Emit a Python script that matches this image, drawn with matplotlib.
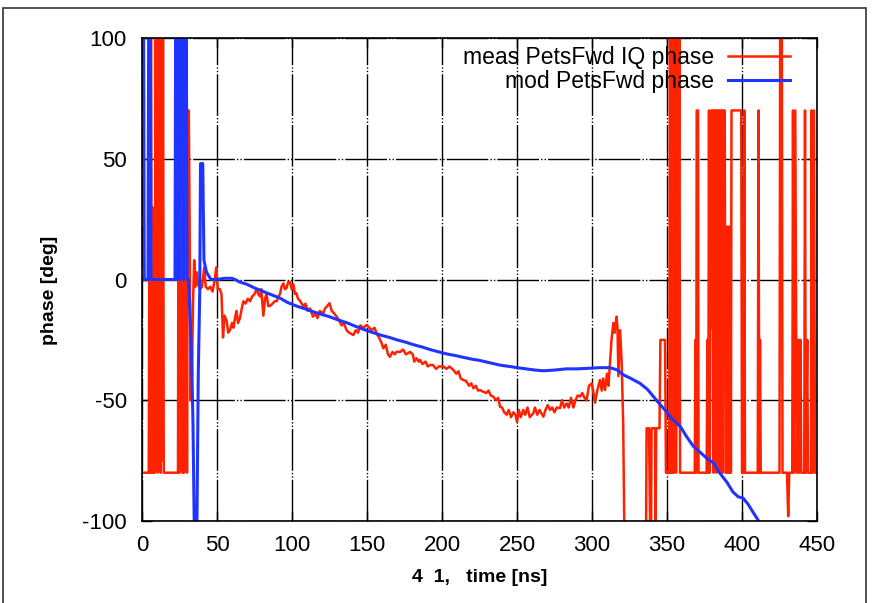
import matplotlib
matplotlib.use("Agg")
import matplotlib.pyplot as plt
from matplotlib.patches import Rectangle

plt.rcParams['font.family'] = ['Liberation Sans', 'DejaVu Sans']
plt.rcParams['axes.unicode_minus'] = False

meas_t = [0, 4.5, 5, 5.5, 6, 6.5, 7, 7.5, 8.5, 9, 9.5, 10, 10.5, 11, 11.5, 12, 12.5, 13, 13.5, 14, 14.5,
          24, 24.5, 25, 25.5, 26, 26.5, 27, 27.5, 28, 28.5, 29, 29.5, 30, 30.5, 31.2, 31.8, 32.3, 32.8, 33.3,
          34, 34.8, 35.5, 36.5, 37.5, 38.5, 40, 41.5, 42.5, 44, 45.5, 47, 48.5, 49.5, 50.5, 52, 53, 54, 55,
          56.4, 57.5, 58.7, 60, 61, 62, 63, 64, 65.3, 66.5, 67.6, 69, 70.5, 72, 73.5, 75, 76.4, 77.5, 78.7,
          79.5, 80.9, 82, 83, 84.2, 85.3, 87, 88.5, 89.8, 91, 92, 93, 94.2, 95.3, 96.4, 97.5, 98.7, 99.8,
          100.9, 102, 103, 104, 105, 106.5, 107.8, 109, 110.5, 112, 114, 115.5, 117, 118.5, 120.9, 122,
          123.5, 125, 126.5, 128, 129.8, 131.5, 133, 134.5, 136.4, 138, 140.9, 142.5, 144, 145.5, 147.6,
          149.8, 151.5, 153, 155, 156.4, 158, 159.5, 160.9, 162.5, 164, 165.3, 167, 168.5, 169.8, 172, 174,
          176, 178.7, 180.5, 181.5, 183, 184.5, 185.3, 187, 189, 190.5, 192, 194, 196, 198, 200.9, 203, 205,
          207.6, 209.5, 211, 212.5, 214.2, 216, 218, 219.5, 220.9, 222.5, 224, 225.3, 227.6, 229.5, 231,
          232.5, 234.2, 236, 237.5, 238.7, 240, 241.5, 243.1, 244.5, 246, 247.6, 249, 250, 251.2, 252.5,
          254.2, 255.5, 257, 258.5, 260.9, 262, 263.5, 265, 267.6, 269, 270.5, 272, 273.5, 275, 276.5, 278.7,
          280, 281.5, 283.1, 284.5, 286, 287.6, 289, 290.5, 292, 293.5, 295, 296.4, 298, 299.8, 301, 302,
          303.5, 305.3, 306.5, 307.5, 308.7, 310, 311, 312, 313, 314.2, 315, 316.4, 317, 317.6, 318.7, 319.8,
          320.8, 322, 335.8, 336.4, 338, 339.2, 339.7, 342, 342.3, 342.8, 345, 345.6, 348.7, 349.3, 351.5,
          352, 352.5, 353.5, 354, 354.5, 355.5, 356, 357, 357.5, 358.2, 358.7, 368.5, 369, 369.5, 369.8,
          370.7, 371, 376.4, 377, 377.5, 378, 378.5, 379.5, 380, 380.5, 381, 381.5, 382, 382.5, 383, 383.5,
          384, 384.5, 385, 385.5, 386, 386.5, 387, 387.5, 388, 388.5, 389, 390, 390.5, 391, 391.8, 392.2,
          392.6, 393, 399.5, 400, 401, 401.5, 402, 410.5, 411, 411.5, 412, 412.5, 425, 425.5, 426.5, 427,
          430, 430.8, 431.5, 433.5, 434, 434.5, 435.5, 436.5, 437.5, 438, 439, 439.5, 441.5, 442, 442.5,
          443.5, 444, 446, 446.4, 447, 448, 448.7, 449.5]
meas_phase = [-80, -80, 30, -80, 120, -80, 30, -80, -80, 120, -70, 120, -80, 120, -60, 120, -80, 120, -75, 120, -80,
              -80, 120, -80, 120, -70, 120, -80, 120, -80, 120, -60, 120, -80, 70, 70, 20, -50, -20, -40,
              -10, 8, -3, 3, -2, -4, -3, 5, -3, -4, -3, -5, 0, 5, -4, -4, -6, -24, -15,
              -17, -22, -21, -18, -20, -16, -13, -18, -16, -12, -9, -10, -8, -9, -7, -6, -4, -6, -7,
              -4, -15, -8, -6, -11, -11, -10, -9, -9, -7, -6, -3, -1.6, -4, -3.5, -1, -1, -4,
              -2, -6, -5.7, -8, -8.5, -10, -11.3, -10, -13, -12, -15.4, -14, -16, -13, -14, -12,
              -11, -9.8, -13, -14, -15.4, -17, -19, -18, -21, -22, -23, -21, -22, -19, -20,
              -18.8, -20, -21, -20, -22.3, -24, -26, -28.5, -27, -31, -32, -30, -31, -29.9, -30, -29,
              -31, -30, -31, -34, -32.6, -34, -33.3, -35, -34, -36, -35.4, -35.4, -37, -36, -36, -37, -36,
              -37.5, -39, -38, -41, -41.6, -42, -44, -43, -45, -44, -46, -45.8, -46.5, -47, -46,
              -48, -48.5, -50, -49, -52.7, -53, -55, -56, -54, -57, -55, -56, -59, -54, -57,
              -54, -56, -53, -57, -55.4, -53, -56, -54, -56.8, -54, -52, -54, -53, -55, -53, -53.3,
              -50, -53, -51.3, -53, -49, -53, -50, -48, -48.5, -47, -49, -50, -44, -43, -47, -51,
              -46, -41.6, -46, -41, -45.8, -39, -44, -34.6, -25, -18, -22, -15.4, -20, -40, -21, -34.6,
              -60, -130, -130, -61.6, -61.6, -130, -61.6, -61.6, -110, -61.6, -61.6, -25, -25, -80, -80,
              130, -80, -80, 130, -80, 130, -80, 130, -60, 130, -80, -80, -25, -80, 70,
              70, -80, -80, -25, -80, 70, -80, 70, -20, 70, -80, 70, -30, 70, -80, 70,
              -10, 70, -80, 70, -50, 70, -80, 70, 30, 70, -80, -80, 22, -80, -80, 22,
              -80, 70, 70, -80, -80, 70, -80, -80, 70, -80, -25, -80, -80, 130, 130, -80,
              -80, -98, -80, -80, 70, -80, 70, -80, -25, -80, -25, -80, -80, 70, -80,
              -25, -80, -80, 70, -80, 70, -80, -80]

# model phase (blue)
mod_t = [0, 1, 1.5, 4, 4.5, 5.5, 6, 22, 22.5, 23, 23.5, 24.5, 25, 25.5, 27, 27.5, 28, 29.5, 30, 31, 32, 33,
         34, 35, 36.5, 37.5, 38.5, 39, 40.5, 41.3, 43, 46, 50, 55, 60, 62, 65, 70, 75, 81, 87, 92, 97, 103,
         108, 114, 120, 125, 131, 137, 142, 147, 153, 159, 165, 170, 176, 181, 187, 192, 198, 203, 209, 214,
         220, 225, 232, 239, 245, 250, 256, 262, 268, 275, 283, 290, 297, 305, 312, 317, 321, 326, 332, 337,
         341, 345, 350, 353, 355, 359, 363, 367.5, 372, 376.5, 381, 385, 390, 394, 397.5, 400.7, 404, 407,
         410.7, 412]
mod_phase = [120, 120, 0, 0, 120, 120, 0, 0, 120, 0, 120, 120, 0, 120, 120, 0, 120, 120, 0, 0, -15, -30,
             -60, -110, -110, -40, -5, 48, 48, 8, 3, 0, 0, 0.5, 0.5, 0, -1, -2, -3.5, -5, -6.5, -7.7, -9.5, -11,
             -12, -13.3, -14.5, -15.4, -16.8, -18, -19.3, -20.5, -21.8, -23, -24, -25, -26, -27, -28, -29, -30,
             -30.8, -31.5, -32.2, -33, -33.5, -34.5, -35.5, -36, -36.5, -37, -37.5, -37.8, -37.5, -37, -37, -36.8,
             -36.5, -36.5, -37.5, -39.5, -41, -43, -45.5, -48.5, -51.5, -55, -57.5, -58.5, -61, -65, -69, -71.5,
             -74, -76, -80, -84, -88, -90, -90.5, -93, -96, -99.6, -101]

xticks = [0, 50, 100, 150, 200, 250, 300, 350, 400, 450]
yticks = [-100, -50, 0, 50, 100]

fig = plt.figure(figsize=(8.76, 6.03), dpi=100)
ax = fig.add_axes([142 / 876, 82 / 603, 675 / 876, 483 / 603])

ax.plot(meas_t, meas_phase, color='#ff2200', lw=1.8, label='meas PetsFwd IQ phase')
ax.plot(mod_t, mod_phase, color='#1f35ff', lw=2.2, label='mod PetsFwd phase')

ax.set_xlim(0, 450)
ax.set_ylim(-100, 100)
ax.set_xticks(xticks)
ax.set_yticks(yticks)
ax.grid(True, color='black', lw=1.0, linestyle=(0, (30, 1.5, 1, 1.5, 1, 1.5)))
ax.set_axisbelow(True)
ax.tick_params(direction='in', length=7, width=1, top=True, right=True, labelsize=16, colors='black')
ax.tick_params(axis='y', pad=11)
ax.tick_params(axis='x', pad=10)
for s in ax.spines.values():
    s.set_linewidth(1.2)

ax.set_xlabel('4  1,   time [ns]', fontsize=14, fontweight='bold')
ax.set_ylabel('phase [deg]', fontsize=14, fontweight='bold')
ax.xaxis.set_label_coords(0.5, -0.1)
ax.yaxis.set_label_coords(-0.124, 0.478)

ax.legend(loc='upper right', bbox_to_anchor=(0.96, 0.984), frameon=False, markerfirst=False,
          fontsize=16.5, handlelength=2.7, handletextpad=0.6, labelspacing=0.05,
          borderpad=0, borderaxespad=0)

fig.add_artist(Rectangle((3 / 876, -0.05), 863 / 876, 1.05 - 8 / 603, transform=fig.transFigure,
                         fill=False, edgecolor='#333333', lw=1.2))

fig.savefig('out.png', dpi=100)
